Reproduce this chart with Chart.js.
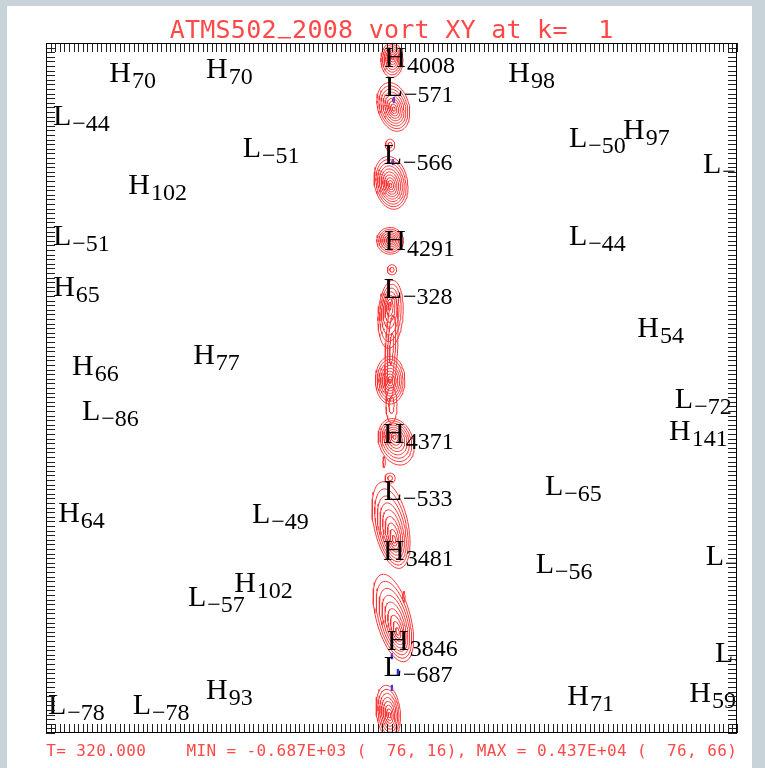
<!DOCTYPE html>
<html>
<head>
<meta charset="utf-8">
<script src="https://cdn.jsdelivr.net/npm/chart.js@4.4.0/dist/chart.umd.min.js"></script>
<style>
html, body { margin: 0; padding: 0; background: #c8d2d9; }
#wrap { position: absolute; left: 7px; top: 6px; width: 745px; height: 762px; background: #fff; }
canvas { display: block; }
</style>
</head>
<body>
<div id="wrap"><canvas id="vortChart" width="745" height="762"></canvas></div>
<script>
// grid is 151 x 151 points
const gridMin = 1;
const gridMax = 151;

const titleText = 'ATMS502_2008 vort XY at k=  1';
const footText = 'T= 320.000    MIN = -0.687E+03 (  76, 16), MAX = 0.437E+04 (  76, 66)';

// H / L extrema labels (grid coords of the letter centre)
const labelKind  = ['H','H','H','L','H','L','L','L','H','L','L','H','L','H','L','H','L','H','H','H','L','L','H','H','L','L','H','L','L','H','L','H','L','H','L','L','H','L','L','H','H'];
const labelX     = [17.1,38.1,76.8,76.5,103.7,4.5,45.7,116.5,128.6,145.6,76.3,21.2,4.5,76.8,116.5,4.9,76.3,131.7,9.0,35.3,139.5,10.8,76.5,138.6,76.3,111.3,6.0,47.7,146.2,76.5,109.3,44.2,33.8,77.4,148.2,76.3,38.1,3.4,21.8,116.5,143.0];
const labelY     = [144.7,145.6,148.0,141.7,144.7,135.3,128.4,130.6,132.3,124.9,126.9,120.3,109.3,108.2,109.3,98.2,97.7,89.3,81.0,83.4,73.8,71.2,66.2,66.9,53.8,54.9,49.0,48.8,39.7,40.8,38.0,33.8,30.8,21.2,18.6,15.6,10.6,7.3,7.3,9.3,9.9];
const labelValue = [70,70,4008,-571,98,-44,-51,-50,97,-52,-566,102,-51,4291,-44,65,-328,54,66,77,-72,-86,4371,141,-533,-65,64,-49,-60,3481,-56,102,-57,3846,-58,-687,93,-78,-78,71,59];

// positive vorticity contour families along the column x ~ 76
const vortX     = [76.1,76.4,75.7,75.9,75.7,76.1,75.8,75.7,76.0,77.0,75.7,74.4,75.9,76.4,78.7,75.3,76.0];
const vortY     = [147.3,137.1,128.8,120.6,108.0,101.7,92.0,77.7,72.3,64.3,56.4,59.9,46.2,26.0,30.6,5.6,84.5];
const vortRx    = [2.4,3.4,1.0,3.6,2.9,1.0,2.7,3.2,1.2,3.7,1.1,0.25,3.7,3.7,0.25,2.6,1.3];
const vortRy    = [3.8,5.4,1.3,5.8,2.9,1.1,7.4,5.2,3.9,5.2,1.1,1.2,9.6,9.8,1.2,5.8,11.5];
const coreX     = [76.3,76.5,75.7,75.8,76.0,76.1,75.6,75.7,76.0,76.6,75.7,74.4,76.6,77.4,78.7,75.6,76.0];
const coreY     = [147.8,136.6,128.8,120.0,108.1,101.7,94.0,77.4,72.3,65.4,56.4,59.9,42.8,22.8,30.6,4.8,84.5];
const vortTilt  = [0,15,0,10,0,0,-4,0,0,20,0,0,12,15,0,6,-3];
const vortRings = [8,9,2,10,8,2,7,9,2,9,2,1,9,9,1,8,3];

// small negative (blue) contours
const negX = [76.5,76.3,76.1,77.4,76.1];
const negY = [138.6,125.1,17.7,14.3,10.8];

function ring(cx, cy, rx, ry, tilt) {
    const a = tilt * Math.PI / 180;
    const pts = [];
    for (let t = 0; t <= 60; t++) {
        const th = t / 60 * 2 * Math.PI;
        const ex = rx * Math.cos(th), ey = ry * Math.sin(th);
        pts.push({ x: cx + ex * Math.cos(a) - ey * Math.sin(a), y: cy + ex * Math.sin(a) + ey * Math.cos(a) });
    }
    return pts;
}

const datasets = [];
for (let i = 0; i < vortX.length; i++) {
    const n = vortRings[i];
    for (let k = 0; k < n; k++) {
        const f = Math.pow((k + 1) / n, 1.1);
        datasets.push({
            data: ring(coreX[i] + (vortX[i] - coreX[i]) * f, coreY[i] + (vortY[i] - coreY[i]) * f,
                       vortRx[i] * f, vortRy[i] * f, vortTilt[i]),
            borderColor: '#ff3434', borderWidth: 1, showLine: true, pointRadius: 0, fill: false
        });
    }
}
for (let i = 0; i < negX.length; i++) {
    datasets.push({
        data: ring(negX[i], negY[i], 0.2, 0.6, 0),
        borderColor: '#2030ff', borderWidth: 1, showLine: true, pointRadius: 0, fill: false
    });
}

function subText(v) {
    return v < 0 ? '\u2212' + Math.abs(v) : String(v);
}

// fixed pitch text, like the NCAR stroke font
function pitchText(ctx, str, x0, base, width) {
    const p = width / str.length;
    ctx.textAlign = 'center';
    ctx.textBaseline = 'alphabetic';
    for (let i = 0; i < str.length; i++) {
        if (str[i] === '_') {
            ctx.fillRect(x0 + p * i + 1, base - 1, p - 2, 1.5);
        } else {
            ctx.fillText(str[i], x0 + p * (i + 0.5), base);
        }
    }
}

const extremaLabels = {
    id: 'extremaLabels',
    afterDatasetsDraw(chart) {
        const { ctx, chartArea: a, scales: { x, y } } = chart;
        ctx.save();
        ctx.beginPath();
        ctx.rect(a.left, a.top, a.right - a.left, a.bottom - a.top);
        ctx.clip();
        ctx.fillStyle = '#000';
        ctx.textAlign = 'left';
        ctx.textBaseline = 'alphabetic';
        for (let i = 0; i < labelKind.length; i++) {
            const px = x.getPixelForValue(labelX[i]);
            const py = y.getPixelForValue(labelY[i]);
            ctx.font = '30px "Liberation Serif", serif';
            const w = ctx.measureText(labelKind[i]).width;
            ctx.fillText(labelKind[i], px - w / 2, py + 10);
            ctx.font = '24px "Liberation Serif", serif';
            ctx.fillText(subText(labelValue[i]), px + w / 2 + 1, py + 16);
        }
        ctx.restore();
    },
    afterDraw(chart) {
        const { ctx, chartArea: a, scales: { x, y } } = chart;
        ctx.save();
        // ticks on all four sides
        ctx.strokeStyle = '#222';
        ctx.lineWidth = 1;
        ctx.beginPath();
        for (let v = gridMin; v <= gridMax; v++) {
            const xp = Math.round(x.getPixelForValue(v)) + 0.5;
            ctx.moveTo(xp, a.top); ctx.lineTo(xp, a.top + 9);
            ctx.moveTo(xp, a.bottom); ctx.lineTo(xp, a.bottom - 9);
            const yp = Math.round(y.getPixelForValue(v)) + 0.5;
            ctx.moveTo(a.left, yp); ctx.lineTo(a.left + 9, yp);
            ctx.moveTo(a.right, yp); ctx.lineTo(a.right - 9, yp);
        }
        ctx.stroke();
        ctx.strokeStyle = '#000';
        ctx.strokeRect(a.left + 0.5, a.top + 0.5, a.right - a.left - 1, a.bottom - a.top - 1);

        // title and footer in red
        ctx.fillStyle = '#ff4848';
        ctx.font = '25px "DejaVu Sans Mono", monospace';
        const tw = 444;
        pitchText(ctx, titleText, (a.left + a.right) / 2 - tw / 2, a.top - 5, tw);
        ctx.font = '16px "DejaVu Sans Mono", monospace';
        pitchText(ctx, footText, a.left, a.bottom + 23, a.right - a.left);
        ctx.restore();
    }
};

new Chart(document.getElementById('vortChart'), {
    type: 'scatter',
    data: { datasets: datasets },
    options: {
        responsive: false,
        animation: false,
        layout: { padding: { left: 39, top: 37, right: 15, bottom: 35 } },
        plugins: { legend: { display: false }, tooltip: { enabled: false } },
        scales: {
            x: { type: 'linear', min: gridMin, max: gridMax, display: false },
            y: { type: 'linear', min: gridMin, max: gridMax, display: false }
        },
        elements: { line: { tension: 0 } }
    },
    plugins: [extremaLabels]
});
</script>
</body>
</html>
